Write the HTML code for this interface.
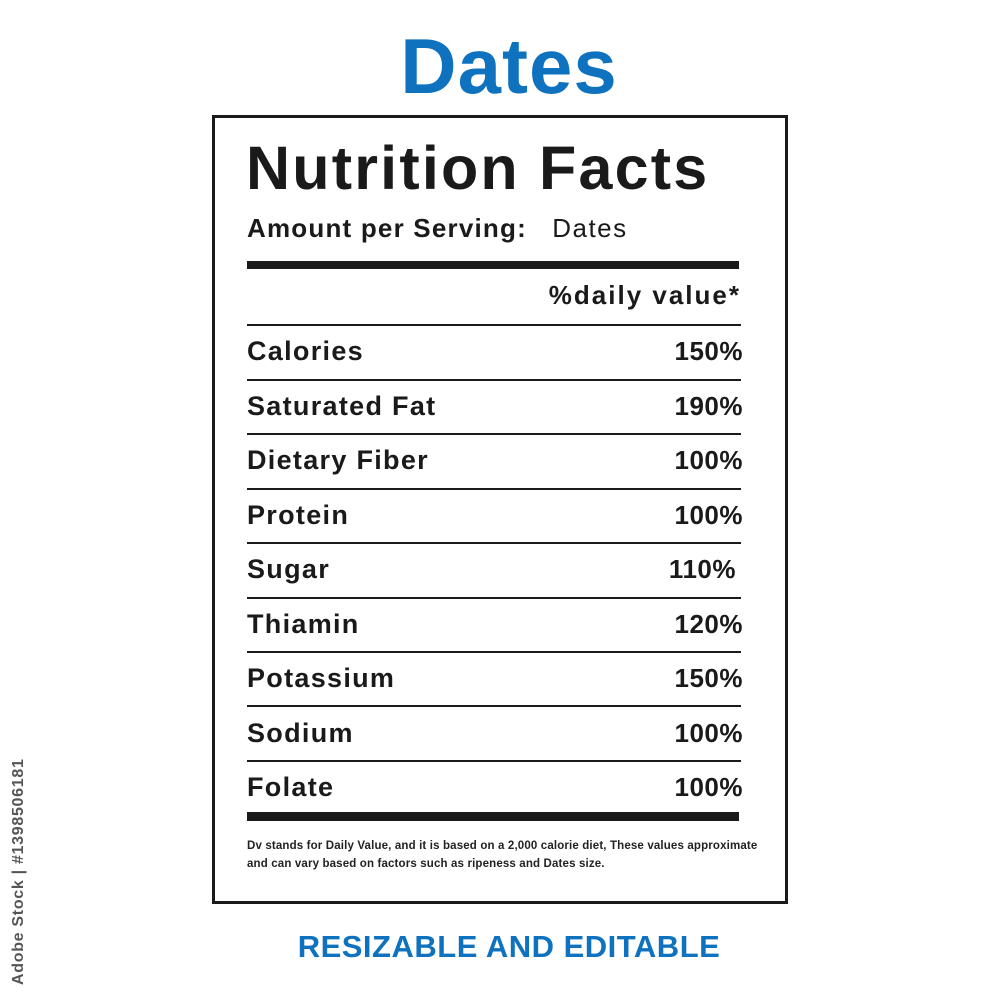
<!DOCTYPE html>
<html><head><style>
body{margin:0;width:1000px;height:1000px;background:#fff;position:relative;overflow:hidden;font-family:"Liberation Sans",sans-serif;color:#1a1a1a}
.a{position:absolute;white-space:nowrap}
.box{position:absolute;left:212px;top:115px;width:570px;height:783px;border:3px solid #1a1a1a}
.hl{position:absolute;left:247px;width:494px;height:2px;background:#1a1a1a}
.lab{position:absolute;left:247px;font-size:27px;font-weight:bold;line-height:30px;letter-spacing:1.3px}
.val{position:absolute;right:257px;font-size:26px;font-weight:bold;line-height:30px;letter-spacing:0.5px}
</style></head><body>
<div class="a" style="left:0;width:1018px;text-align:center;top:24px;font-size:78px;font-weight:bold;color:#0f72bf;line-height:84px;letter-spacing:1px">Dates</div>
<div class="box"></div>
<div class="a" style="left:246px;top:134px;font-size:61px;font-weight:bold;line-height:68px;letter-spacing:2.2px">Nutrition Facts</div>
<div class="a" style="left:247px;top:213px;font-size:26px;font-weight:bold;line-height:30px;letter-spacing:1.2px">Amount per Serving:&nbsp;&nbsp; <span style="font-weight:normal;letter-spacing:1.5px">Dates</span></div>
<div class="a" style="left:247px;top:261px;width:492px;height:8px;background:#1a1a1a"></div>
<div class="a" style="right:259px;top:280px;font-size:26px;font-weight:bold;line-height:30px;letter-spacing:2px">%daily value*</div>
<div class="hl" style="top:324px"></div>
<div class="lab" style="top:336px">Calories</div><div class="val" style="top:336px">150%</div>
<div class="hl" style="top:379px"></div>
<div class="lab" style="top:391px">Saturated Fat</div><div class="val" style="top:391px">190%</div>
<div class="hl" style="top:433px"></div>
<div class="lab" style="top:445px">Dietary Fiber</div><div class="val" style="top:445px">100%</div>
<div class="hl" style="top:488px"></div>
<div class="lab" style="top:500px">Protein</div><div class="val" style="top:500px">100%</div>
<div class="hl" style="top:542px"></div>
<div class="lab" style="top:554px">Sugar</div><div class="val" style="top:554px;right:264px">110%</div>
<div class="hl" style="top:597px"></div>
<div class="lab" style="top:609px">Thiamin</div><div class="val" style="top:609px">120%</div>
<div class="hl" style="top:651px"></div>
<div class="lab" style="top:663px">Potassium</div><div class="val" style="top:663px">150%</div>
<div class="hl" style="top:705px"></div>
<div class="lab" style="top:718px">Sodium</div><div class="val" style="top:718px">100%</div>
<div class="hl" style="top:760px"></div>
<div class="lab" style="top:772px">Folate</div><div class="val" style="top:772px">100%</div>
<div class="a" style="left:247px;top:812px;width:492px;height:9px;background:#1a1a1a"></div>
<div class="a" style="left:247px;top:837px;font-size:11.5px;font-weight:bold;line-height:18px;color:#222;letter-spacing:0.15px">Dv stands for Daily Value, and it is based on a 2,000 calorie diet, These values approximate<br>and can vary based on factors such as ripeness and Dates size.</div>
<div class="a" style="left:0;width:1018px;text-align:center;top:929px;font-size:31px;font-weight:bold;color:#0f72bf;line-height:36px;letter-spacing:0.5px">RESIZABLE AND EDITABLE</div>
<div class="a" style="left:8px;top:985px;transform:rotate(-90deg);transform-origin:0 0;font-size:16px;font-weight:bold;color:#555;line-height:22px;letter-spacing:0.7px">Adobe Stock | #1398506181</div>
</body></html>
